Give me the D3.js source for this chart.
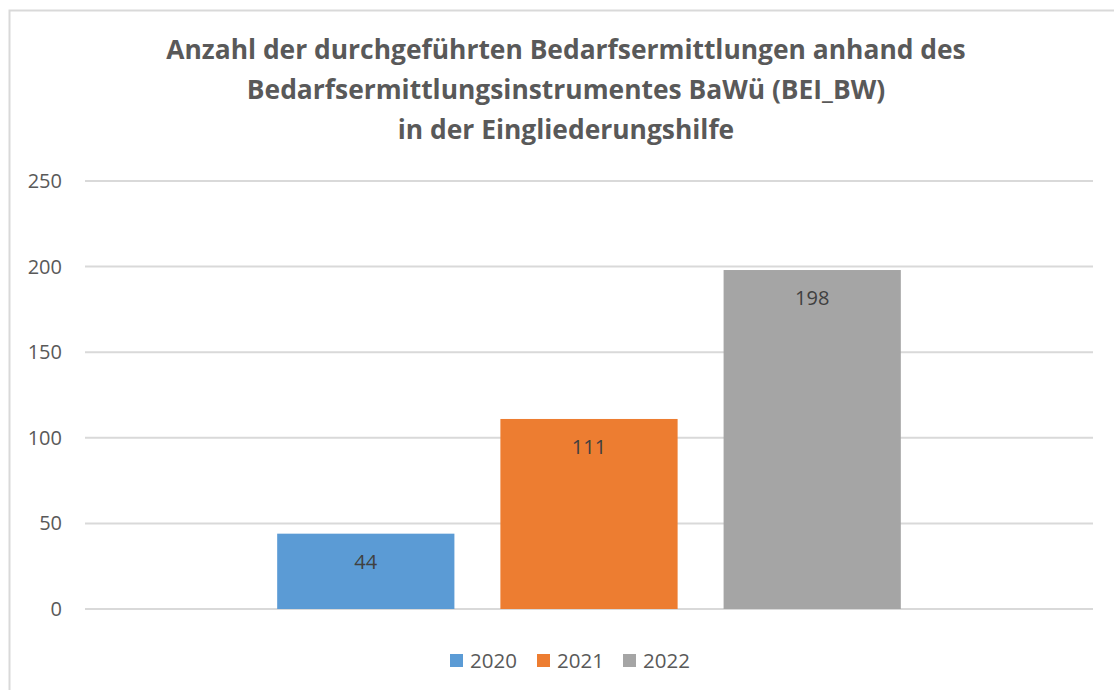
<!DOCTYPE html>
<html>
<head>
<meta charset="utf-8">
<style>
  body { margin: 0; background: #fff; font-family: "Open Sans", Arial, sans-serif; }
  .grid line { stroke: #d9d9d9; stroke-width: 2; }
  .tick-label { fill: #595959; font-size: 20px; }
  .bar-label { fill: #404040; font-size: 20px; }
  .title { fill: #595959; font-size: 26.4px; font-weight: bold; }
  .legend text { fill: #595959; font-size: 20.5px; }
</style>
</head>
<body>
<script src="https://d3js.org/d3.v7.min.js"></script>
<script>
const years = ["2020", "2021", "2022"];
const values = [44, 111, 198];
const colors = ["#5b9bd5", "#ed7d31", "#a5a5a5"];
const yTicks = [0, 50, 100, 150, 200, 250];
const titleLines = [
  "Anzahl der durchgeführten Bedarfsermittlungen anhand des",
  "Bedarfsermittlungsinstrumentes BaWü (BEI_BW)",
  "in der Eingliederungshilfe"
];

const width = 1114, height = 690;
const margin = {top: 181, right: 21, bottom: 81, left: 85};

const svg = d3.select("body").append("svg")
  .attr("width", width)
  .attr("height", height);

// chart frame
svg.append("rect")
  .attr("x", 9.5).attr("y", 10.5)
  .attr("width", width).attr("height", height)
  .attr("fill", "none")
  .attr("stroke", "#d9d9d9")
  .attr("stroke-width", 2);

const y = d3.scaleLinear()
  .domain([0, 250])
  .range([height - margin.bottom, margin.top]);

const x = d3.scaleBand()
  .domain(years)
  .range([margin.left, width - margin.right])
  .paddingInner(0.206)
  .paddingOuter(0.861);

// gridlines
const grid = svg.append("g").attr("class", "grid");
grid.selectAll("line")
  .data(yTicks)
  .join("line")
  .attr("x1", margin.left)
  .attr("x2", width - margin.right)
  .attr("y1", d => y(d))
  .attr("y2", d => y(d));

// tick labels
svg.append("g")
  .selectAll("text")
  .data(yTicks)
  .join("text")
  .attr("class", "tick-label")
  .attr("x", 62)
  .attr("y", d => y(d))
  .attr("dy", "0.35em")
  .attr("text-anchor", "end")
  .text(d => d);

// bars
svg.append("g")
  .selectAll("rect")
  .data(years)
  .join("rect")
  .attr("x", d => x(d))
  .attr("width", x.bandwidth())
  .attr("y", (d, i) => y(values[i]))
  .attr("height", (d, i) => y(0) - y(values[i]))
  .attr("fill", (d, i) => colors[i]);

svg.append("g")
  .selectAll("text")
  .data(years)
  .join("text")
  .attr("class", "bar-label")
  .attr("x", d => x(d) + x.bandwidth() / 2)
  .attr("y", (d, i) => y(values[i]) + 28)
  .attr("dy", "0.35em")
  .attr("text-anchor", "middle")
  .text((d, i) => values[i]);

// title
svg.append("g")
  .selectAll("text")
  .data(titleLines)
  .join("text")
  .attr("class", "title")
  .attr("x", 566)
  .attr("y", (d, i) => 59 + i * 40)
  .attr("text-anchor", "middle")
  .text(d => d);

// legend
const legend = svg.append("g").attr("class", "legend");
const legendX = [450, 537, 623];
const item = legend.selectAll("g")
  .data(years)
  .join("g")
  .attr("transform", (d, i) => `translate(${legendX[i]},661)`);
item.append("rect")
  .attr("x", 0).attr("y", -7)
  .attr("width", 13).attr("height", 13)
  .attr("fill", (d, i) => colors[i]);
item.append("text")
  .attr("x", 20)
  .attr("y", 0)
  .attr("dy", "0.35em")
  .text(d => d);
</script>
</body>
</html>
